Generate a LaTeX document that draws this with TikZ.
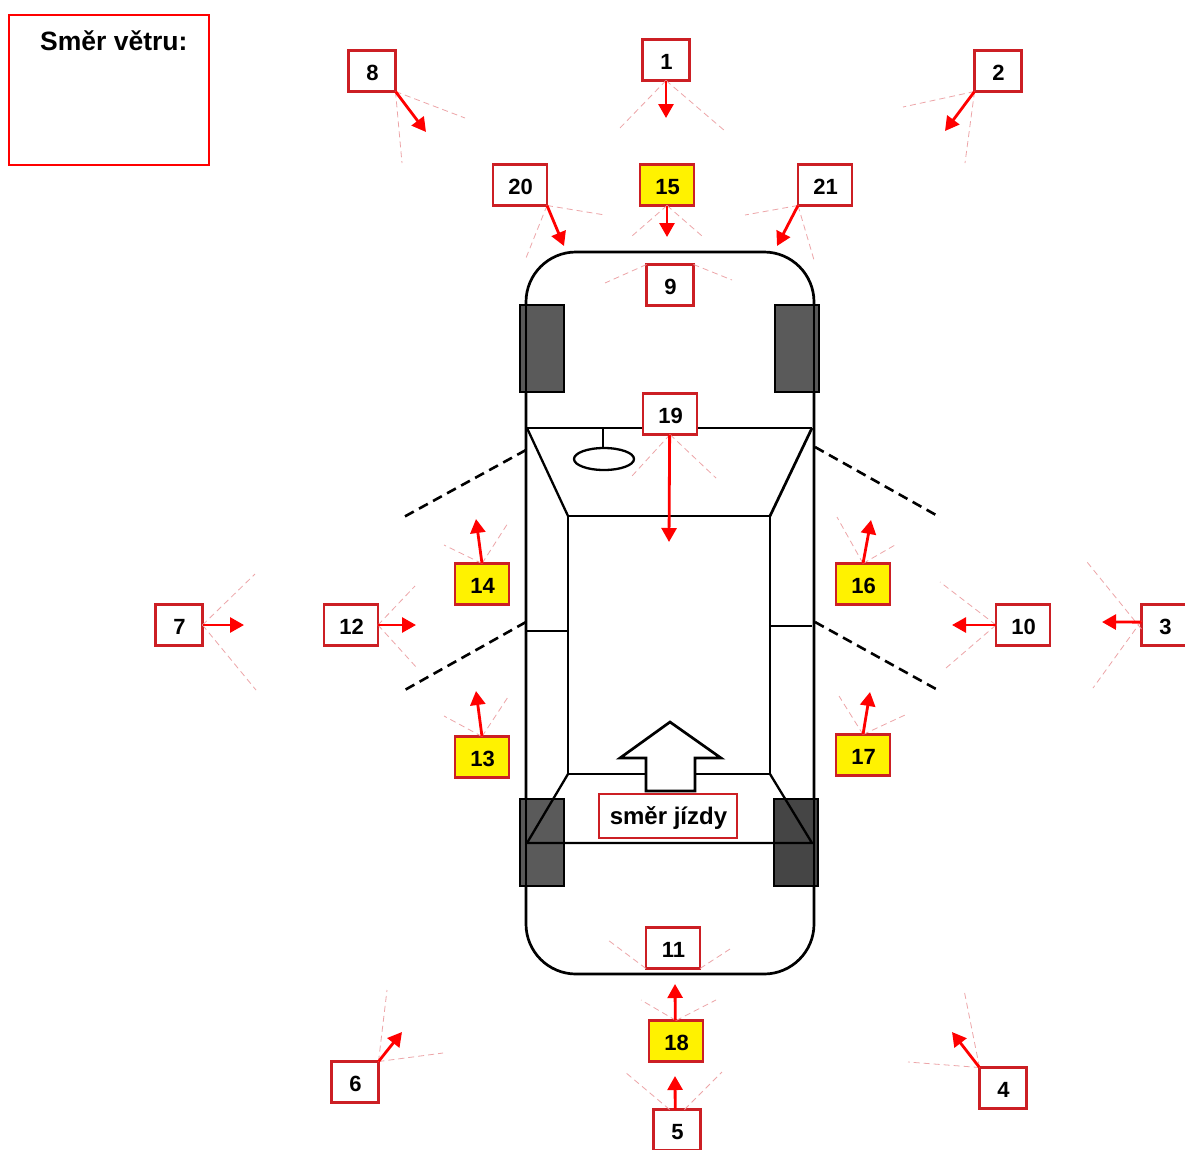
\documentclass[tikz,border=0pt]{standalone}
\usepackage{fontspec}
\setmainfont{Liberation Sans}
\usetikzlibrary{arrows.meta}
\definecolor{boxred}{HTML}{CC1F24}
\definecolor{faint}{HTML}{EDA5A8}
\definecolor{tyreA}{HTML}{555555}
\definecolor{tyreB}{HTML}{404040}
\tikzset{
  lab/.style={draw=boxred,line width=2.8,fill=white,inner sep=0,outer sep=0,
    font=\fontsize{22}{24}\selectfont\bfseries,text=black,minimum height=41,
    text height=19.5,text depth=0,execute at begin node=\hspace*{1pt}},
  narrow/.style={lab,minimum width=47},
  wide/.style={lab,minimum width=54},
  hot/.style={wide,fill=yellow},
  windarrow/.style={draw=red,line width=2.8,-{Triangle[length=14,width=15]}},
  sector/.style={draw=faint,line width=.8,dash pattern=on 6 off 4},
  body/.style={draw=black,line width=2.7},
  thin body/.style={draw=black,line width=2.3},
  door/.style={draw=black,line width=2.6,dash pattern=on 10 off 6},
  tyre/.style={draw=black,line width=2.7,fill=#1,fill opacity=.97}
}
% name, arrow anchor, arrow end, sector anchor 1, end 1, sector anchor 2, end 2
\newcommand{\windfan}[7]{%
  \coordinate (#1-e) at (#3);
  \coordinate (#1-a) at (#5);
  \coordinate (#1-b) at (#7);
  \draw[sector] (#1.#4) -- (#1-a);
  \draw[sector] (#1.#6) -- (#1-b);
  \draw[windarrow] (#1.#2) -- (#1-e);
}
\begin{document}
\begin{tikzpicture}[x=1pt,y=-1pt]
\clip (0,0) rectangle (1185,1149);
\fill[white] (0,0) rectangle (1185,1149);

% car
\draw[body,rounded corners=50] (526,252) rectangle (814,974);
\draw[tyre=tyreA] (520,305) rectangle (564,392);
\draw[tyre=tyreA] (775,305) rectangle (819,392);
\draw[tyre=tyreA] (520,799) rectangle (564,886);
\draw[tyre=tyreB] (774,799) rectangle (818,886);
\draw[body] (526,300) -- (526,400);
\draw[body] (814,300) -- (814,400);
\draw[body] (526,795) -- (526,890);
\draw[body] (814,795) -- (814,890);
\draw[body] (527,428) -- (812,428);
\draw[thin body] (527,428) -- (568,516);
\draw[body] (812,428) -- (770,516);
\draw[body] (568,516) rectangle (770,774);
\draw[thin body] (568,774) -- (527,843) -- (812,843) -- (770,774);
\draw[thin body] (527,631) -- (568,631);
\draw[thin body] (770,626) -- (812,626);
\draw[thin body] (603,428) -- (603,448);
\draw[thin body] (604,459) ellipse [x radius=30,y radius=11];
\draw[door] (526,450) -- (402,518);
\draw[door] (815,447) -- (936,515);
\draw[door] (526,622) -- (403,691);
\draw[door] (815,622) -- (936,689);
\draw[body,fill=white,line join=miter] (670,722) -- (721,758) -- (695,758) -- (695,791) -- (646,791) -- (646,758) -- (620,758) -- cycle;

% wind direction box
\node[draw=red,line width=2.2,minimum width=200,minimum height=150,inner sep=0,outer sep=0] (wind) at (109,90) {};
\node[font=\fontsize{26.5}{28}\selectfont\bfseries,inner sep=0,anchor=base west,text=black] (windtext) at (40,50) {Směr větru:};

% labels
\node[narrow] (n1) at (666,60) {1};
\node[narrow] (n2) at (998,71) {2};
\node[narrow] (n3) at (1165,625) {3};
\node[narrow] (n4) at (1003,1088) {4};
\node[narrow] (n5) at (677,1130) {5};
\node[narrow] (n6) at (355,1082) {6};
\node[narrow] (n7) at (179,625) {7};
\node[narrow] (n8) at (372,71) {8};
\node[narrow] (n9) at (670,285) {9};
\node[wide] (n10) at (1023,625) {10};
\node[wide] (n11) at (673,948) {11};
\node[wide] (n12) at (351,625) {12};
\node[hot] (n13) at (482,757) {13};
\node[hot] (n14) at (482,584) {14};
\node[hot] (n15) at (667,185) {15};
\node[hot] (n16) at (863,584) {16};
\node[hot] (n17) at (863,755) {17};
\node[hot] (n18) at (676,1041) {18};
\node[wide] (n19) at (670,414) {19};
\node[wide] (n20) at (520,185) {20};
\node[wide] (n21) at (825,185) {21};
\node[lab,minimum width=138,minimum height=44,font=\fontsize{24}{26}\selectfont\bfseries,text height=17] (dir) at (668,816) {směr jízdy};

% arrows with sectors
\windfan{n1}{south}{666,118}{south}{618,130}{south}{725,131}
\windfan{n2}{south west}{945,131}{south west}{903,107}{south west}{965,163}
\windfan{n3}{173}{1102,622}{190}{1087,562}{170}{1093,688}
\windfan{n4}{north west}{952,1032}{north west}{908,1062}{north west}{964,990}
\windfan{n5}{95}{675,1076}{110}{625,1072}{70}{722,1072}
\windfan{n6}{north east}{402,1032}{north east}{443,1053}{north east}{387,990}
\windfan{n7}{east}{244,625}{east}{255,574}{east}{256,690}
\windfan{n8}{south east}{426,132}{south east}{465,118}{south east}{402,163}
\coordinate (n9-a) at (605,283);
\coordinate (n9-b) at (732,280);
\draw[sector] (n9.north west) -- (n9-a);
\draw[sector] (n9.north east) -- (n9-b);
\windfan{n10}{west}{952,625}{west}{940,582}{west}{946,668}
\coordinate (n11-a) at (608,940);
\coordinate (n11-b) at (730,949);
\draw[sector] (n11.south west) -- (n11-a);
\draw[sector] (n11.south east) -- (n11-b);
\windfan{n12}{east}{416,625}{east}{415,586}{east}{417,668}
\windfan{n13}{north}{476,691}{north}{444,716}{north}{508,697}
\windfan{n14}{north}{476,519}{north}{444,545}{north}{508,523}
\windfan{n15}{south}{667,237}{south}{632,236}{south}{702,236}
\windfan{n16}{north}{871,520}{north}{837,517}{north}{895,545}
\windfan{n17}{north}{870,692}{north}{839,696}{north}{905,715}
\windfan{n18}{92}{675,984}{north}{641,1000}{north}{716,1000}
\windfan{n19}{269}{669,542}{south}{632,476}{south}{716,478}
\windfan{n20}{south east}{564,246}{south east}{605,215}{south east}{526,258}
\windfan{n21}{south west}{777,246}{south west}{745,215}{south west}{814,260}
\end{tikzpicture}
\end{document}
